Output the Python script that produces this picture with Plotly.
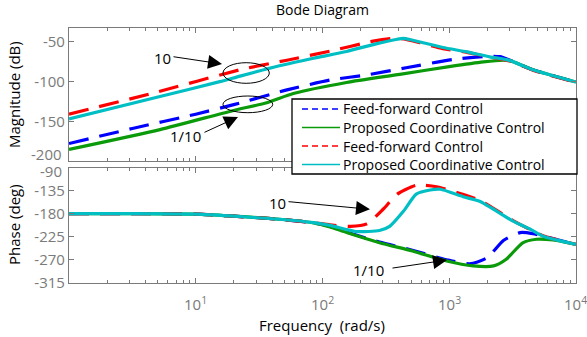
import plotly.graph_objects as go

# ---------------- data (frequency as log10 rad/s) ----------------
mag_ff10_logw = [0, 0.66, 1.375, 1.72, 2.06, 2.40, 2.55, 2.64, 2.77, 2.95, 3.14, 3.32, 3.48, 3.66, 4.0]
mag_ff10 = [-141, -114.5, -84, -73, -61.5, -49, -45.5, -46, -51, -58.5, -63, -69, -74, -85.5, -101]

mag_pc10_logw = [0, 0.718, 1.19, 1.35, 1.66, 1.93, 2.19, 2.43, 2.59, 2.64, 2.77, 2.95, 3.14, 3.32, 3.48, 3.66, 4.0]
mag_pc10 = [-147, -118.7, -100, -93, -80, -70.5, -62, -52, -46.5, -45.5, -50, -57, -62.5, -68.7, -73.5, -85, -100.5]

mag_ff01_logw = [0, 0.5, 1.0, 1.3, 1.72, 2.06, 2.37, 2.66, 3.03, 3.30, 3.40, 3.48, 3.66, 4.0]
mag_ff01 = [-178, -159, -141, -129, -110.4, -98, -91, -82.5, -72, -68, -68.5, -73, -85, -100.5]

mag_pc01_logw = [0, 0.718, 1.29, 1.56, 1.77, 2.19, 2.61, 3.0, 3.27, 3.43, 3.48, 3.66, 4.0]
mag_pc01 = [-185.4, -160.4, -136.6, -126.6, -115, -101, -90.8, -81, -75, -73, -73.5, -85, -100.5]

ph_ff10_logw = [0, 0.5, 1.0, 1.27, 1.66, 1.93, 2.06, 2.22, 2.35, 2.48, 2.59, 2.74, 2.90, 3.06, 3.24, 3.50, 3.74, 4.0]
ph_ff10 = [-180, -180, -181, -184.5, -191, -197.6, -202, -205, -200, -171, -142, -124.5, -127.5, -139, -154, -193, -223, -240]

ph_pc10_logw = [0, 0.5, 1.0, 1.27, 1.66, 1.93, 2.06, 2.27, 2.45, 2.53, 2.64, 2.74, 2.85, 2.93, 3.11, 3.24, 3.50, 3.64, 3.74, 4.0]
ph_pc10 = [-180, -180, -181, -184.5, -191, -197.6, -203, -215, -213, -205, -175, -142, -134, -132.5, -147, -156, -194, -210.5, -224, -240]

ph_ff01_logw = [0, 0.5, 1.0, 1.27, 1.66, 1.93, 2.06, 2.19, 2.45, 2.71, 2.98, 3.16, 3.30, 3.43, 3.56, 3.66, 3.74, 4.0]
ph_ff01 = [-180, -180, -181, -184.5, -191, -198, -205, -216, -235.5, -251.5, -270, -278, -266, -232, -217, -219, -224, -240]

ph_pc01_logw = [0, 0.5, 1.0, 1.27, 1.66, 1.93, 2.06, 2.19, 2.45, 2.71, 2.98, 3.19, 3.35, 3.45, 3.58, 3.69, 3.82, 4.0]
ph_pc01 = [-180, -180, -181, -184.5, -191, -198, -206, -217, -236.7, -253, -272.6, -282, -282, -269, -237, -230, -231.5, -240]

x_tickvals = [10, 100, 1000, 10000]
x_ticktext = ["10<sup>1</sup>", "10<sup>2</sup>", "10<sup>3</sup>", "10<sup>4</sup>"]
mag_ticks = [-200, -150, -100, -50]
ph_ticks = [-315, -270, -225, -180, -135, -90]

legend_names = ["Feed-forward Control", "Proposed Coordinative Control",
                "Feed-forward Control", "Proposed Coordinative Control"]

# ---------------- styles ----------------
W, H = 587, 337
BLUE, GREEN, RED, CYAN = "#0000FF", "#0A9A0A", "#FF0000", "#00BFC4"
AX = "#7a7a7a"
FONT = "Open Sans"
DASH = "20px,11px"

def w(logs):
    return [10 ** v for v in logs]

def px(x):
    return x / W

def py(y):
    return 1 - y / H

fig = go.Figure()

series = [
    (mag_ff01_logw, mag_ff01, ph_ff01_logw, ph_ff01, BLUE, DASH),
    (mag_pc01_logw, mag_pc01, ph_pc01_logw, ph_pc01, GREEN, "solid"),
    (mag_ff10_logw, mag_ff10, ph_ff10_logw, ph_ff10, RED, DASH),
    (mag_pc10_logw, mag_pc10, ph_pc10_logw, ph_pc10, CYAN, "solid"),
]
for mx, my, phx, phy, col, dash in series:
    fig.add_trace(go.Scatter(x=w(mx), y=my, mode="lines",
                             line=dict(color=col, width=3.2, dash=dash, shape="spline", smoothing=0.6),
                             xaxis="x", yaxis="y", showlegend=False, hoverinfo="skip"))
    fig.add_trace(go.Scatter(x=w(phx), y=phy, mode="lines",
                             line=dict(color=col, width=3.2, dash=dash, shape="spline", smoothing=0.6),
                             xaxis="x2", yaxis="y2", showlegend=False, hoverinfo="skip"))

minor_vals = [m * 10 ** d for d in range(0, 4) for m in range(2, 10)]

common_x = dict(type="log", range=[0, 4.0005], showgrid=False, zeroline=False, automargin=False,
                showline=True, linecolor=AX, linewidth=1.2, mirror="ticks",
                ticks="inside", ticklen=5, tickcolor=AX,
                tickvals=x_tickvals, showticklabels=False,
                minor=dict(tickvals=minor_vals, ticks="inside", ticklen=3, tickcolor=AX, showgrid=False))

common_y = dict(showgrid=False, zeroline=False, showline=True, linecolor=AX, linewidth=1.2,
                mirror="ticks", ticks="inside", ticklen=5, tickcolor=AX, automargin=False,
                tickfont=dict(family=FONT, size=15, color=AX))

# end labels (-200 / -90) are placed as annotations like the reference (nudged apart)
mag_ticktext = ["" if v == -200 else str(v) for v in mag_ticks]
ph_ticktext = ["" if v == -90 else str(v) for v in ph_ticks]

fig.update_layout(
    width=W, height=H, margin=dict(l=0, r=0, t=0, b=0, autoexpand=False),
    paper_bgcolor="white", plot_bgcolor="white",
    font=dict(family=FONT, size=14, color="black"),
    xaxis=dict(common_x, domain=[px(69), px(576)], anchor="y"),
    yaxis=dict(common_y, domain=[py(161), py(27.7)], anchor="x", range=[-200, -32],
               tickvals=mag_ticks, ticktext=mag_ticktext),
    xaxis2=dict(common_x, domain=[px(69), px(576)], anchor="y2"),
    yaxis2=dict(common_y, domain=[py(283.3), py(167.5)], anchor="x2", range=[-316, -90],
                tickvals=ph_ticks, ticktext=ph_ticktext),
    showlegend=False,
)

# x tick labels as annotations on the frequency axis (log axis -> log10 positions)
for v, t in zip(x_tickvals, x_ticktext):
    fig.add_annotation(text=t, xref="x2", yref="paper", x=len(str(v)) - 1, y=py(303),
                       xanchor="center", yanchor="middle", showarrow=False,
                       font=dict(family=FONT, size=15, color=AX))

anns = [
    dict(text="Bode Diagram", x=px(322), y=py(9), font=dict(size=14, color="black")),
    dict(text="Magnitude (dB)", x=px(14), y=py(95), textangle=-90, font=dict(size=15, color="black")),
    dict(text="Phase (deg)", x=px(14), y=py(225), textangle=-90, font=dict(size=15, color="black")),
    dict(text="Frequency  (rad/s)", x=px(322), y=py(325), font=dict(size=15, color="black")),
    dict(text="10", x=px(162), y=py(58), font=dict(size=15, color="black")),
    dict(text="1/10", x=px(185), y=py(136), font=dict(size=15, color="black")),
    dict(text="10", x=px(277), y=py(203), font=dict(size=15, color="black")),
    dict(text="1/10", x=px(368), y=py(270), font=dict(size=15, color="black")),
]
for a in anns:
    a.update(xref="paper", yref="paper", showarrow=False, xanchor="center", yanchor="middle")
    fig.add_annotation(**a)

for txt, yy in [(str(mag_ticks[0]), 154), (str(ph_ticks[-1]), 171)]:
    fig.add_annotation(text=txt, xref="paper", yref="paper", x=px(64), y=py(yy),
                       xanchor="right", yanchor="middle", showarrow=False,
                       font=dict(family=FONT, size=15, color=AX))

arrows = [
    ((172, 56.5), (222, 64)),
    ((203, 133), (238, 117)),
    ((287, 201.5), (370, 209.3)),
    ((391, 268.3), (447, 260)),
]
for (tx, ty), (hx, hy) in arrows:
    fig.add_annotation(xref="paper", yref="paper", x=px(hx), y=py(hy), ax=tx - hx, ay=ty - hy,
                       text="", showarrow=True, arrowhead=2, arrowsize=2.8, arrowwidth=1,
                       arrowcolor="black", standoff=0)

ellipses = [(223, 62.7, 269.3, 83.3), (223, 96, 272.7, 112.7)]
for x0, y0, x1, y1 in ellipses:
    fig.add_shape(type="circle", xref="paper", yref="paper", x0=px(x0), x1=px(x1), y0=py(y1), y1=py(y0),
                  line=dict(color="black", width=1))

# ---------------- manual legend (box, samples, labels) ----------------
fig.add_shape(type="rect", xref="paper", yref="paper", x0=px(292), x1=px(577), y0=py(174), y1=py(99),
              fillcolor="white", line=dict(color="black", width=1.3), layer="above")
legend_rows = [109, 127.5, 146, 164.5]
legend_styles = [(BLUE, "6px,4px"), (GREEN, "solid"), (RED, "6px,4px"), (CYAN, "solid")]
for yy, (col, dash), name in zip(legend_rows, legend_styles, legend_names):
    fig.add_shape(type="line", xref="paper", yref="paper", x0=px(302), x1=px(340), y0=py(yy), y1=py(yy),
                  line=dict(color=col, width=1.5, dash=dash), layer="above")
    fig.add_annotation(text=name, xref="paper", yref="paper", x=px(341), y=py(yy),
                       xanchor="left", yanchor="middle", showarrow=False, height=17,
                       font=dict(family=FONT, size=14, color="black"))

fig.write_html("out.html")
